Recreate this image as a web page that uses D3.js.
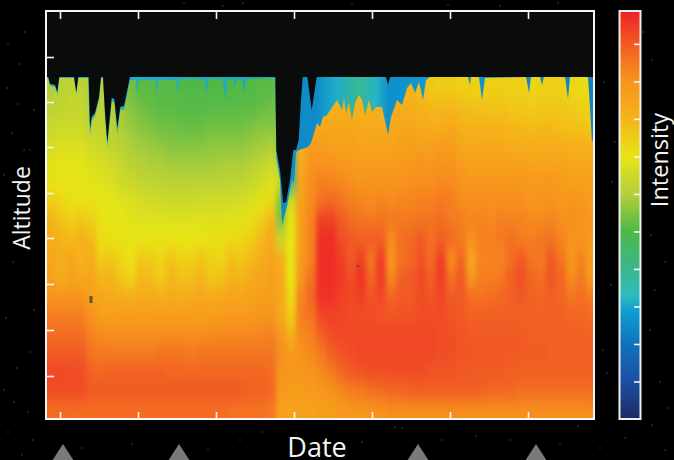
<!DOCTYPE html>
<html>
<head>
<meta charset="utf-8">
<script src="https://cdn.jsdelivr.net/npm/d3@7"></script>
<style>
  html, body { margin: 0; padding: 0; background: #000; overflow: hidden; }
  svg { display: block; }
  text { font-family: "Open Sans", sans-serif; fill: #f4f4f4; }
</style>
</head>
<body>
<script>
// day / altitude are in arbitrary units, the original axes carry no labels
var dayTicks = [14, 92, 170, 248, 326, 404, 482];
var altitudeTicks = [44, 90, 136, 182, 227, 273, 318, 363];
var intensityTicks = [1, 2, 3, 4, 5, 6, 7, 8, 9, 10];

var dayColumns = d3.range(5, 555, 10);
var altitudeRows = [334, 315, 296, 277, 258, 239, 220, 201, 182, 163, 144, 125, 106, 87, 68, 49, 30, 11];

// one line per altitude row, top to bottom
var intensity = [
  [6,6.1,6.2,6.1,6, 6,5.9,5.6,5.3,5.1, 5.1,5.1,5.1,5,5, 5,5,5,5,5, 5,5.1,5.1,5.5,4, 4,4.5,7.7,7.9,7.9, 7.8,7.8,7.9,7.9,8, 8,8,7.8,7.6,7.5, 7.5,7.4,7.4,7.4,7.4, 7.5,7.4,7.4,7.3,7.4, 7.4,7.4,7.3,7.2,7.2],
  [6.1,6.2,6.3,6.3,6, 6.1,6,5.8,5.5,5.3, 5.2,5.1,5.1,5.1,5.1, 5.1,5.1,5.1,5.1,5.1, 5.1,5.2,5.3,5.5,4, 4,7.8,8,8.1,8.2, 8.1,8.1,8.1,8.1,8.2, 8.2,8.2,8,7.9,7.9, 7.9,7.8,7.7,7.7,7.7, 7.7,7.6,7.6,7.5,7.6, 7.6,7.6,7.5,7.4,7.4],
  [6.3,6.4,6.4,6.4,6.2, 6.2,6.1,5.9,5.7,5.5, 5.4,5.3,5.3,5.2,5.2, 5.2,5.3,5.3,5.3,5.3, 5.4,5.5,5.5,5.5,4, 6,8.4,8.3,8.4,8.4, 8.4,8.3,8.3,8.3,8.3, 8.4,8.4,8.3,8.2,8.2, 8.4,8.1,8,8,8, 8,7.9,7.9,7.8,7.9, 7.9,7.8,7.7,7.7,7.6],
  [6.6,6.7,6.7,6.7,6.5, 6.4,6.2,6.1,5.9,5.8, 5.7,5.6,5.5,5.5,5.5, 5.5,5.6,5.6,5.6,5.6, 5.7,5.8,5.9,5.5,4, 8,8.8,8.7,8.6,8.6, 8.6,8.5,8.5,8.5,8.5, 8.6,8.7,8.6,8.6,8.7, 8.7,8.4,8.3,8.3,8.3, 8.3,8.2,8.2,8.2,8.2, 8.2,8.2,8.1,8.1,8],
  [6.8,6.9,6.9,6.9,6.7, 6.6,6.5,6.3,6.1,6, 5.9,5.9,5.8,5.8,5.8, 5.8,5.8,5.9,5.9,5.9, 6,6.2,6.4,6,4, 8.4,9,9,9,8.9, 8.8,8.7,8.8,8.8,8.8, 8.8,8.9,9,8.9,9, 9,8.8,8.6,8.7,8.7, 8.7,8.6,8.6,8.5,8.5, 8.5,8.5,8.4,8.4,8.3],
  [7.1,7,6.9,6.9,6.9, 6.8,6.7,6.5,6.4,6.2, 6.2,6.1,6.1,6.1,6.1, 6.1,6.1,6.1,6.2,6.2, 6.3,6.5,6.8,6.5,4, 8.5,9.1,9.4,9.3,9.2, 9.1,9,9,9,9, 9,9.1,9.1,9.1,9.2, 9.2,9,8.9,9,8.9, 8.9,8.9,8.9,8.8,8.9, 8.9,8.8,8.7,8.7,8.6],
  [7.5,7.3,7.1,7.1,7.1, 7,6.9,6.8,6.7,6.6, 6.5,6.5,6.4,6.4,6.4, 6.5,6.5,6.5,6.5,6.6, 6.7,6.9,7.2,5.5,6.5, 8.6,9.2,9.6,9.8,9.6, 9.4,9.3,9.2,9.3,9.2, 9.3,9.3,9.4,9.4,9.5, 9.4,9.2,9.1,9.1,9.1, 9.1,9.1,9.1,9,9, 9,8.9,9,8.9,8.7],
  [8.1,7.7,7.4,7.6,7.4, 7.1,7,7,6.9,6.8, 6.8,6.8,6.8,6.8,6.8, 6.8,6.8,6.8,6.9,6.9, 7.1,7.4,8,5.5,7, 8.7,9.3,10.4,10.4,10, 9.7,9.6,9.5,9.6,9.5, 9.5,9.5,9.6,9.6,9.7, 9.5,9.4,9.3,9.3,9.2, 9.4,9.3,9.3,9.2,9.2, 9.3,9.1,9.1,9,8.9],
  [8.3,8.1,7.9,8.2,7.9, 7.2,7.1,7.1,7,7, 7,7,7,7,7, 7,7.1,7.1,7.2,7.3, 7.5,7.9,8.3,6.5,7, 8.7,9.3,10.7,10.7,10.2, 10,9.9,10,9.9,9.2, 9.7,9.8,10,9.7,9.9, 9.8,9.5,9.1,9.4,9.4, 9.5,9.7,9.4,9.4,9.6, 9.6,9.3,9,9,8.8],
  [8.4,8.2,8.4,8,8.3, 7.4,7.6,7.3,7.1,7.6, 7.5,7.3,7.7,7.4,7.4, 7.7,7.4,7.3,7.8,7.6, 7.9,8.2,8.5,8.2,7, 8.8,9.3,10.7,10.7,10.4, 10,10.4,9.5,10.4,8.9, 9.6,9.8,10.1,9.7,10.4, 9.1,9.8,8.4,9.3,9.3, 9.3,9.7,10,9.6,9.5, 10,9.6,8.9,9.3,8.7],
  [8.6,8.2,8.6,8.4,8.4, 8,8.1,7.6,7.3,7.9, 7.8,7.5,8,7.7,7.8, 8,7.6,7.7,8.1,8, 8.3,8.5,8.7,8.3,7, 9,9.6,10.7,10.7,10.5, 10.2,10.6,9.8,10.5,9.2, 9.9,10,10.3,9.9,10.5, 9.6,10,8.8,9.4,9.4, 9.5,9.9,10.2,9.8,9.7, 10.1,9.8,9.1,9.5,8.7],
  [9,8.9,8.9,8.9,8.6, 8.4,8.3,8.3,8.2,8.3, 8.3,8.2,8.3,8.2,8.3, 8.4,8.3,8.4,8.5,8.4, 8.6,8.7,8.7,8.4,7.2, 9.3,9.8,10.6,10.6,10.4, 10.3,10.4,10.1,10.3,9.8, 10,10,10.2,10.1,10.3, 10,10,9.7,9.6,9.7, 9.8,9.9,10,9.9,9.8, 9.9,9.8,9.6,9.7,9.5],
  [9.4,9.4,9.4,9.4,9, 8.7,8.7,8.7,8.7,8.7, 8.7,8.7,8.7,8.7,8.7, 8.7,8.7,8.7,8.8,8.8, 8.8,8.9,9,8.3,7.5, 9.4,9.6,10.3,10.4,10.3, 10.2,10.2,10.2,10.1,10.1, 10.1,10.1,10.2,10.2,10.2, 10.1,10,9.9,9.9,9.9, 9.9,9.9,9.9,9.9,9.9, 9.9,9.9,9.8,9.8,9.7],
  [9.7,9.7,9.7,9.7,9.3, 9.2,9.1,9.1,9.1,9.1, 9.1,9.1,9.1,9.1,9.1, 9.1,9.2,9.2,9.2,9.2, 9.2,9.3,9.3,8.9,8.1, 9.2,9.4,9.9,10.2,10.3, 10.3,10.3,10.3,10.3,10.3, 10.3,10.3,10.3,10.3,10.2, 10.2,10.1,10,10,10, 10,10,10,9.9,9.9, 9.9,9.9,9.9,9.9,9.9],
  [10,10,10,10,9.6, 9.5,9.5,9.5,9.5,9.5, 9.5,9.6,9.6,9.6,9.5, 9.6,9.6,9.6,9.6,9.6, 9.6,9.6,9.6,9.1,8.8, 9,9.2,9.5,9.9,10.1, 10.2,10.3,10.3,10.3,10.3, 10.3,10.3,10.3,10.3,10.2, 10.2,10.1,10.1,10,10, 10,10,10,10,10, 9.9,9.9,9.9,9.9,9.9],
  [10.3,10.3,10.2,10.2,9.9, 9.8,9.9,9.9,9.9,9.9, 9.9,9.9,9.8,9.8,9.8, 9.8,9.8,9.8,9.8,9.8, 9.8,9.8,9.7,9,9, 8.9,9,9.2,9.4,9.8, 10,10.1,10.2,10.2,10.2, 10.2,10.2,10.2,10.1,10.1, 10.1,10,10,10,10, 10,9.9,9.9,9.9,9.9, 9.9,9.9,9.9,9.9,9.9],
  [10.2,10.2,10.2,10.2,10, 10,10,10,10,10, 10,10,10,10,10, 10,10,10,10,10, 9.9,9.9,9.8,8.8,8.7, 8.7,8.8,8.9,9,9.2, 9.4,9.5,9.6,9.7,9.8, 9.8,9.9,9.9,9.9,9.9, 9.9,9.9,9.9,9.9,9.8, 9.8,9.8,9.7,9.7,9.7, 9.7,9.7,9.7,9.7,9.7],
  [9.7,9.7,9.7,9.7,9.7, 9.7,9.7,9.7,9.7,9.7, 9.7,9.7,9.7,9.7,9.7, 9.7,9.7,9.7,9.6,9.6, 9.6,9.6,9.5,8.6,8.6, 8.6,8.6,8.7,8.7,8.8, 8.9,8.9,9,9,9.1, 9.1,9.1,9.1,9.1,9.1, 9.1,9.1,9.1,9.1,9.1, 9.1,9.1,9.1,9.1,9.1, 9.1,9.1,9.1,9.1,9.1]
];

// upper limit of the readings, black (no data) above it
var ceilingDays = [0,2.3,4,9,11.3,13.3,28,30.3,32.3,42.7,44,45.7,49,53,55,57,59,61.3,65.7,68.3,71.3,74.3,78,80.7,84,229.3,230.3,234,237.3,240,244,247.3,250,252.7,255,256.7,261.3,265.7,270.7,340,342,344,545,548];
var ceilingAlts = [343,343,336,335,328,343,343,328,343,343,292,303,307,323,343,343,307,278,322,321,292,313,314,327,343,343,270,250,217,218,240,270,270,280,320,343,343,310,343,343,335,343,343,343];

// low intensity edge right under the ceiling
var fringeDays = [0,2,4,9,11.3,13.3,28,30.3,32.3,42,44,46,49,53,55,57,59,61.3,65.7,68.3,71.3,74.3,78,80.7,84,90,91.3,92.7,109.3,110.7,112,130.3,131.7,133,159,160.7,162.3,177,179,181,187.3,189,190.7,196.7,198.3,200,229,230.5,234,236,241,246,248,250,253,262,265,268,271,274,277,281,291,296,298,300,303,306,309,313,316,319,323,326,330,336,342,345,351,356,361,365,369,373,377,380,384,422,424,425,433,436,439,480,483,485,494,496,498,519,522,524,542,544,546,548];
var fringeAlts = [343,342,334,333,325,342,342,325,342,342,284,300,304,320,342,342,305,272,318,318,286,310,310,322,340,340,325,340,340,325,340,340,325,341,341,325,341,341,320,341,341,334,341,341,326,341,342,262,240,195,214,240,238,268,270,273,277,287,297,293,303,305,320,310,322,307,318,300,317,325,320,305,320,308,313,313,285,303,320,315,332,337,327,338,320,340,343,343,335,343,343,320,342,343,327,343,343,335,343,343,321,343,343,313,277,285];
var fringeStopDays = [0,229,231,270,290,313,330,342,380,548];
var fringeStopLevels = [3.2,3,2.5,2.5,3.1,3.9,3.2,2.6,2.8,2.3];

// two stray dark readings
var strayDays = [45, 312];
var strayAlts = [121, 152];

// colour bar stops
var colorLevels = [0, 1, 2, 2.8, 3, 3.3, 4, 5, 6, 7, 8, 9, 9.5, 10, 10.85];
var colorValues = ["#1d2a66", "#1c4fa0", "#1072ba", "#0f9ad0", "#18a5cc", "#2fbcc0", "#3ab78c", "#4fb848", "#b5cf3a", "#e8e514", "#f5b41a", "#f7941d", "#f47a20", "#f15a24", "#ee2327"];

// grey markers under the plot
var markerDays = [17, 133, 372, 490];

// background specks, just scenery
var specks = [[8,44],[19,64],[25,32],[18,104],[12,133],[30,150],[7,88],[34,110],[4,175],[24,150],[13,262],[34,310],[6,318],[30,352],[17,368],[4,390],[14,402],[28,412],[8,432],[33,440],[22,455],[82,448],[132,444],[208,450],[240,440],[262,432],[395,427],[402,428],[362,442],[442,440],[476,436],[510,440],[560,444],[578,426],[600,448],[607,373],[603,350],[611,285],[615,142],[643,32],[652,60],[658,128],[662,170],[651,235],[655,290],[665,262],[650,330],[660,382],[668,408],[652,425],[665,450],[625,438],[612,182],[604,82],[558,3],[500,6],[448,5],[352,4],[223,6],[184,3],[243,3]];

var chartW = 674, chartH = 460;
var left = 46, right = 594, top_ = 11, bottom = 420;

var svg = d3.select("body").append("svg")
    .attr("width", chartW)
    .attr("height", chartH);

var defs = svg.append("defs");

// scales
var x = d3.scaleLinear().domain([0, 548]).range([left, right]);
var y = d3.scaleLinear().domain([0, 409]).range([bottom, top_]);
var xBand = d3.scaleBand().domain(dayColumns).range([left, left + 550]);
var yBand = d3.scaleBand().domain(altitudeRows).range([y(343), bottom]);
var color = d3.scaleLinear().domain(colorLevels).range(colorValues).clamp(true);
var barY = d3.scaleLinear().domain([0, 10.85]).range([419, 12]);

// blur smooths the cells, source stays below so the edges do not fade out
var smooth = defs.append("filter").attr("id", "smooth")
    .attr("x", "-3%").attr("y", "-8%").attr("width", "106%").attr("height", "116%")
    .attr("color-interpolation-filters", "sRGB");
smooth.append("feGaussianBlur").attr("in", "SourceGraphic").attr("stdDeviation", "2.6 8").attr("result", "b");
var merge = smooth.append("feMerge");
merge.append("feMergeNode").attr("in", "SourceGraphic");
merge.append("feMergeNode").attr("in", "b");

defs.append("filter").attr("id", "soft")
    .attr("color-interpolation-filters", "sRGB")
  .append("feGaussianBlur").attr("stdDeviation", "0.6");

defs.append("clipPath").attr("id", "plotClip")
  .append("rect").attr("x", left).attr("y", top_).attr("width", right - left).attr("height", bottom - top_);

// specks first
svg.append("g").selectAll("circle").data(specks).enter().append("circle")
    .attr("cx", function(d) { return d[0]; })
    .attr("cy", function(d) { return d[1]; })
    .attr("r", 0.8)
    .attr("fill", "#6f7477")
    .attr("opacity", 0.6);

// plot background
svg.append("rect")
    .attr("x", left).attr("y", top_).attr("width", right - left).attr("height", bottom - top_)
    .attr("fill", "#0a0c0c");

var plot = svg.append("g").attr("clip-path", "url(#plotClip)");

// heat cells
var cells = plot.append("g").attr("filter", "url(#smooth)");
altitudeRows.forEach(function(alt, i) {
  cells.selectAll("rect.r" + i).data(intensity[i]).enter().append("rect")
      .attr("class", "r" + i)
      .attr("x", function(d, j) { return xBand(dayColumns[j]); })
      .attr("y", yBand(alt))
      .attr("width", xBand.bandwidth() + 0.5)
      .attr("height", yBand.bandwidth() + 0.5)
      .attr("fill", function(d) { return color(d); });
});

// fringe gradient along the days
var fringeGrad = defs.append("linearGradient").attr("id", "fringeGrad")
    .attr("gradientUnits", "userSpaceOnUse")
    .attr("x1", left).attr("x2", right).attr("y1", 0).attr("y2", 0);
fringeStopDays.forEach(function(d, i) {
  fringeGrad.append("stop")
      .attr("offset", d / 548)
      .attr("stop-color", color(fringeStopLevels[i]));
});

var fringe = d3.area()
    .x(function(d) { return x(d); })
    .y0(y(350))
    .y1(function(d, i) { return y(fringeAlts[i]); });

plot.append("path")
    .attr("d", fringe(fringeDays))
    .attr("fill", "url(#fringeGrad)")
    .attr("filter", "url(#soft)");

// black above the ceiling
var ceiling = d3.area()
    .x(function(d) { return x(d); })
    .y0(top_)
    .y1(function(d, i) { return y(ceilingAlts[i]); });

plot.append("path")
    .attr("d", ceiling(ceilingDays))
    .attr("fill", "#0a0c0c")
    .attr("filter", "url(#soft)");

plot.selectAll("rect.stray").data(strayDays).enter().append("rect")
    .attr("class", "stray")
    .attr("x", function(d) { return x(d) - 1.5; })
    .attr("y", function(d, i) { return y(strayAlts[i]) - 3; })
    .attr("width", 3)
    .attr("height", function(d, i) { return i === 0 ? 7 : 2; })
    .attr("fill", "#5f5a2a");

// frame and ticks
function styleAxis(g) {
  g.select(".domain").remove();
  g.selectAll(".tick line").attr("stroke", "#f4f4f4").attr("stroke-width", 1.6);
  g.selectAll(".tick text").remove();
}

svg.append("g").attr("transform", "translate(0," + (top_ + 1) + ")")
    .call(d3.axisTop(x).tickValues(dayTicks).tickSize(-7)).call(styleAxis);
svg.append("g").attr("transform", "translate(0," + (bottom - 1) + ")")
    .call(d3.axisBottom(x).tickValues(dayTicks).tickSize(-7)).call(styleAxis);
svg.append("g").attr("transform", "translate(" + (left + 1) + ",0)")
    .call(d3.axisLeft(y).tickValues(altitudeTicks).tickSize(-7)).call(styleAxis);

svg.append("rect")
    .attr("x", left).attr("y", top_).attr("width", right - left).attr("height", bottom - top_ - 1)
    .attr("fill", "none").attr("stroke", "#f6f6f6").attr("stroke-width", 2);

// colour bar
var barGrad = defs.append("linearGradient").attr("id", "barGrad")
    .attr("gradientUnits", "userSpaceOnUse")
    .attr("x1", 0).attr("x2", 0).attr("y1", barY(0)).attr("y2", barY(10.85));
colorLevels.forEach(function(v, i) {
  barGrad.append("stop").attr("offset", v / 10.85).attr("stop-color", colorValues[i]);
});

svg.append("rect")
    .attr("x", 619.5).attr("y", 11).attr("width", 21).attr("height", 408)
    .attr("fill", "url(#barGrad)").attr("stroke", "#eeeeee").attr("stroke-width", 2);

svg.append("g").attr("transform", "translate(640,0)")
    .call(d3.axisRight(barY).tickValues(intensityTicks).tickSize(-6)).call(styleAxis);

// markers
svg.append("g").selectAll("path").data(markerDays).enter().append("path")
    .attr("d", function(d) { var px = x(d); return "M" + px + ",444L" + (px + 11) + ",461H" + (px - 11) + "Z"; })
    .attr("fill", "#7a797b");

// labels
svg.append("text")
    .attr("transform", "translate(22,208) rotate(-90)")
    .attr("dy", "0.35em")
    .style("text-anchor", "middle")
    .style("font-size", "23px")
    .text("Altitude");

svg.append("text")
    .attr("transform", "translate(660,160) rotate(-90)")
    .attr("dy", "0.35em")
    .style("text-anchor", "middle")
    .style("font-size", "23.5px")
    .text("Intensity");

svg.append("text")
    .attr("x", 317)
    .attr("y", 457)
    .style("text-anchor", "middle")
    .style("font-size", "27px")
    .text("Date");
</script>
</body>
</html>
